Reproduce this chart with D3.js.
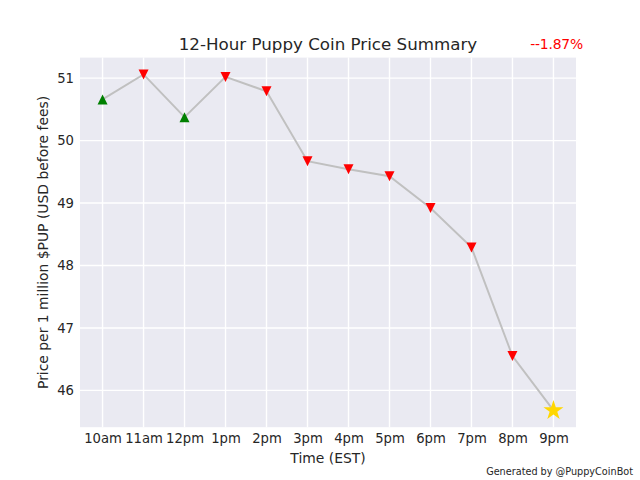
<!DOCTYPE html>
<html>
<head>
<meta charset="utf-8">
<script src="https://cdn.jsdelivr.net/npm/d3@7"></script>
<style>
  html, body { margin: 0; padding: 0; background: #fff; }
  svg { display: block; font-family: "DejaVu Sans", sans-serif; }
</style>
</head>
<body>
<div id="chart"></div>
<script>
// hourly labels and prices (USD per 1M $PUP)
const hours = ['10am', '11am', '12pm', '1pm', '2pm', '3pm', '4pm', '5pm', '6pm', '7pm', '8pm', '9pm'];
const prices = [50.66, 51.06, 50.375, 51.02, 50.79, 49.67, 49.54, 49.43, 48.92, 48.29, 46.55, 45.68];
// marker kind per point: up = green triangle, down = red triangle, last = star
const moves = ['up', 'down', 'up', 'down', 'down', 'down', 'down', 'down', 'down', 'down', 'down', 'last'];
const yTicks = [46, 47, 48, 49, 50, 51];
const changeLabel = '--1.87%';

const W = 640, H = 480;
const margin = { top: 57.6, right: 64, bottom: 52.8, left: 80 };
const width = W - margin.left - margin.right;
const height = H - margin.top - margin.bottom;
const textColor = '#262626';

const svg = d3.select('#chart').append('svg')
  .attr('width', W)
  .attr('height', H);

const g = svg.append('g')
  .attr('transform', `translate(${margin.left},${margin.top})`);

g.append('rect')
  .attr('width', width)
  .attr('height', height)
  .attr('fill', '#eaeaf2');

const xScale = d3.scalePoint().domain(hours).range([0, width]).padding(0.55);
const [lo, hi] = d3.extent(prices);
const pad = (hi - lo) * 0.05;
const yScale = d3.scaleLinear().domain([lo - pad, hi + pad]).range([height, 0]);

// grid
g.append('g').selectAll('line').data(hours).enter().append('line')
  .attr('x1', d => xScale(d)).attr('x2', d => xScale(d))
  .attr('y1', 0).attr('y2', height)
  .attr('stroke', '#fff').attr('stroke-width', 1.4);
g.append('g').selectAll('line').data(yTicks).enter().append('line')
  .attr('x1', 0).attr('x2', width)
  .attr('y1', d => yScale(d)).attr('y2', d => yScale(d))
  .attr('stroke', '#fff').attr('stroke-width', 1.4);

// axes (labels only, no tick marks or spines)
const xAxis = g.append('g')
  .attr('transform', `translate(0,${height})`)
  .call(d3.axisBottom(xScale).tickSize(0).tickPadding(6));
const yAxis = g.append('g')
  .call(d3.axisLeft(yScale).tickValues(yTicks).tickSize(0).tickPadding(6).tickFormat(d3.format('d')));
[xAxis, yAxis].forEach(a => {
  a.select('.domain').remove();
  a.selectAll('text')
    .attr('fill', textColor)
    .attr('font-size', '13.2px')
    .attr('font-family', '"DejaVu Sans", sans-serif');
});

// price line
const line = d3.line()
  .x((d, i) => xScale(hours[i]))
  .y(d => yScale(d));
g.append('path')
  .datum(prices)
  .attr('d', line)
  .attr('fill', 'none')
  .attr('stroke', '#c0c0c0')
  .attr('stroke-width', 2);

// markers
const tri = 5;
const starPath = (R) => {
  const pts = [];
  for (let k = 0; k < 10; k++) {
    const r = k % 2 === 0 ? R : R * 0.382;
    const a = -Math.PI / 2 + k * Math.PI / 5;
    pts.push([r * Math.cos(a), r * Math.sin(a)]);
  }
  return 'M' + pts.map(p => p.join(',')).join('L') + 'Z';
};
g.append('g').selectAll('path').data(prices).enter().append('path')
  .attr('transform', (d, i) => `translate(${xScale(hours[i])},${yScale(d)})`)
  .attr('d', (d, i) => {
    if (moves[i] === 'up') return `M0,${-tri}L${tri},${tri}L${-tri},${tri}Z`;
    if (moves[i] === 'down') return `M0,${tri}L${tri},${-tri}L${-tri},${-tri}Z`;
    return starPath(10.5);
  })
  .attr('fill', (d, i) => moves[i] === 'up' ? 'green' : moves[i] === 'down' ? 'red' : 'gold');

// titles
svg.append('text')
  .attr('x', margin.left + width / 2)
  .attr('y', 50)
  .attr('text-anchor', 'middle')
  .attr('fill', textColor)
  .attr('font-size', '16.7px')
  .text('12-Hour Puppy Coin Price Summary');

svg.append('text')
  .attr('x', 583)
  .attr('y', 49)
  .attr('text-anchor', 'end')
  .attr('fill', 'red')
  .attr('font-size', '13.9px')
  .attr('letter-spacing', '-0.2px')
  .text(changeLabel);

svg.append('text')
  .attr('x', margin.left + width / 2)
  .attr('y', 463)
  .attr('text-anchor', 'middle')
  .attr('fill', textColor)
  .attr('font-size', '13.9px')
  .text('Time (EST)');

svg.append('text')
  .attr('transform', `translate(48,${margin.top + height / 2}) rotate(-90)`)
  .attr('text-anchor', 'middle')
  .attr('fill', textColor)
  .attr('font-size', '13.9px')
  .text('Price per 1 million $PUP (USD before fees)');

svg.append('text')
  .attr('x', 633)
  .attr('y', 475)
  .attr('text-anchor', 'end')
  .attr('fill', textColor)
  .attr('font-size', '9.7px')
  .text('Generated by @PuppyCoinBot');
</script>
</body>
</html>
